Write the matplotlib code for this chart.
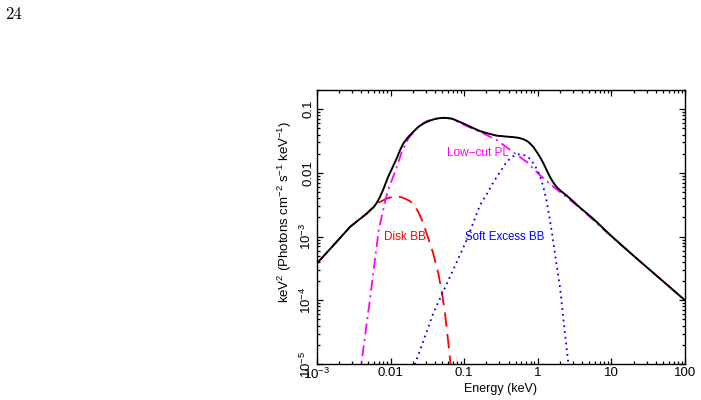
import matplotlib
matplotlib.use("Agg")
import matplotlib.pyplot as plt
from matplotlib.ticker import FixedLocator, FixedFormatter, LogLocator, NullFormatter

plt.rcParams['font.family'] = ['Liberation Sans', 'DejaVu Sans']
plt.rcParams['mathtext.fontset'] = 'custom'
plt.rcParams['mathtext.rm'] = 'Liberation Sans'
plt.rcParams['mathtext.it'] = 'Liberation Sans:italic'
plt.rcParams['mathtext.bf'] = 'Liberation Sans:bold'

# ---- data (Energy in keV, keV^2 flux) ----
total_E = [0.001, 0.00169, 0.00283, 0.00478, 0.0053, 0.00582, 0.0065, 0.00724, 0.0080, 0.0093,
           0.00982, 0.0109, 0.0121, 0.0135, 0.0149, 0.0175, 0.0203, 0.0240, 0.0278, 0.0330,
           0.0380, 0.0450, 0.0520, 0.0600, 0.0683, 0.0973, 0.130, 0.164, 0.220, 0.277, 0.370,
           0.465, 0.550, 0.635, 0.720, 0.783, 0.870, 0.966, 1.07, 1.19, 1.32, 1.47, 1.63, 1.81,
           2.10, 2.47, 3.00, 3.74, 5.68, 10.0, 20.0, 50.0, 100.0]
total_F = [3.8e-4, 7.4e-4, 1.43e-3, 2.32e-3, 2.61e-3, 2.85e-3, 3.4e-3, 4.3e-3, 5.6e-3, 8.8e-3,
           1.0e-2, 1.3e-2, 1.69e-2, 2.3e-2, 2.90e-2, 3.7e-2, 4.41e-2, 5.3e-2, 5.97e-2, 6.5e-2,
           6.89e-2, 7.2e-2, 7.31e-2, 7.25e-2, 7.1e-2, 5.97e-2, 5.1e-2, 4.52e-2, 4.1e-2, 3.84e-2,
           3.72e-2, 3.64e-2, 3.55e-2, 3.38e-2, 3.15e-2, 2.90e-2, 2.55e-2, 2.14e-2, 1.78e-2,
           1.42e-2, 1.1e-2, 8.57e-3, 7.0e-3, 5.97e-3, 5.1e-3, 4.4e-3, 3.6e-3, 2.85e-3, 1.9e-3,
           1.02e-3, 5.0e-4, 2.0e-4, 1.0e-4]

disk_E = [0.001, 0.00169, 0.00283, 0.00478, 0.00653, 0.00893, 0.0105, 0.0122, 0.0140, 0.0157,
          0.018, 0.0205, 0.0235, 0.0267, 0.0325, 0.0380, 0.0445, 0.0499, 0.0548, 0.0603,
          0.0652, 0.068]
disk_F = [3.8e-4, 7.4e-4, 1.43e-3, 2.31e-3, 3.32e-3, 3.97e-3, 4.18e-3, 4.24e-3, 4.15e-3, 3.94e-3,
          3.65e-3, 3.2e-3, 2.5e-3, 1.82e-3, 9.4e-4, 5.4e-4, 2.65e-4, 1.30e-4, 6.3e-5, 2.38e-5,
          1.0e-5, 6.0e-6]

pl_E = [0.0039, 0.0040, 0.0053, 0.00689, 0.00847, 0.0093, 0.0115, 0.0142, 0.0174, 0.0227,
        0.0309, 0.0390, 0.0469, 0.0570, 0.0683, 0.0973, 0.164, 0.277, 0.465, 0.706, 1.07, 1.63,
        2.47, 3.74, 5.68, 10.0, 20.0, 50.0, 100.0]
pl_F = [6.0e-6, 1.0e-5, 1.14e-4, 1.26e-3, 3.7e-3, 5.5e-3, 1.04e-2, 2.14e-2, 3.47e-2, 4.98e-2,
        6.49e-2, 7.05e-2, 7.31e-2, 7.3e-2, 7.05e-2, 5.75e-2, 4.41e-2, 3.27e-2, 2.11e-2, 1.49e-2,
        9.2e-3, 6.04e-3, 4.15e-3, 2.8e-3, 1.82e-3, 1.0e-3, 5.0e-4, 2.0e-4, 1.0e-4]

soft_E = [0.0205, 0.0215, 0.0380, 0.0641, 0.108, 0.164, 0.202, 0.248, 0.310, 0.378, 0.430,
          0.490, 0.573, 0.692, 0.780, 0.869, 0.970, 1.07, 1.19, 1.32, 1.45, 1.55, 1.63, 1.80,
          2.0, 2.27, 2.59, 2.7]
soft_F = [8.0e-6, 1.0e-5, 6.24e-5, 2.34e-4, 8.81e-4, 3.12e-3, 4.6e-3, 7.1e-3, 1.05e-2, 1.49e-2,
          1.72e-2, 1.90e-2, 1.97e-2, 1.87e-2, 1.66e-2, 1.41e-2, 1.15e-2, 9.0e-3, 6.0e-3, 3.6e-3,
          1.9e-3, 1.19e-3, 8.0e-4, 3.6e-4, 1.63e-4, 4.09e-5, 1.07e-5, 7.0e-6]

xticks = [1e-3, 1e-2, 1e-1, 1, 10, 100]
xticklabels = [r'$\mathregular{10^{-3}}$', '0.01', '0.1', '1', '10', '100']
yticks = [1e-5, 1e-4, 1e-3, 1e-2, 1e-1]
yticklabels = [r'$\mathregular{10^{-5}}$', r'$\mathregular{10^{-4}}$', r'$\mathregular{10^{-3}}$', '0.01', '0.1']

fig = plt.figure(figsize=(7.01, 4.0), dpi=100)
ax = fig.add_axes([317/701, 1-364/400, 368/701, 274/400])

ax.plot(disk_E, disk_F, color='#ff0000', lw=1.3, ls=(0, (8, 4)))
ax.plot(pl_E, pl_F, color='#ff00ff', lw=1.3, ls=(0, (6, 2.5, 1.2, 2.5)))
ax.plot(soft_E, soft_F, color='#0000ff', lw=1.3, ls=(0, (1, 2.2)))
ax.plot(total_E, total_F, color='black', lw=1.4)

ax.set_xscale('log')
ax.set_yscale('log')
ax.set_xlim(1e-3, 100)
ax.set_ylim(1e-5, 0.2)

ax.xaxis.set_major_locator(FixedLocator(xticks))
ax.xaxis.set_major_formatter(FixedFormatter(xticklabels))
ax.yaxis.set_major_locator(FixedLocator(yticks))
ax.yaxis.set_major_formatter(FixedFormatter(yticklabels))
ax.xaxis.set_minor_locator(LogLocator(base=10, subs=range(2, 10), numticks=20))
ax.yaxis.set_minor_locator(LogLocator(base=10, subs=range(2, 10), numticks=20))
ax.xaxis.set_minor_formatter(NullFormatter())
ax.yaxis.set_minor_formatter(NullFormatter())

ax.tick_params(which='both', direction='in', top=True, right=True, width=0.9, colors='black')
ax.tick_params(which='major', length=4.5, labelsize=9.5, pad=2)
ax.tick_params(which='minor', length=2.2)
for lab in ax.get_yticklabels():
    lab.set_rotation(90)
    lab.set_va('center')
for s in ax.spines.values():
    s.set_linewidth(1.0)

ax.set_xlabel('Energy (keV)', fontsize=9, labelpad=1)
ax.set_ylabel(r'keV$^{\mathregular{2}}$ (Photons cm$^{\mathregular{-2}}$ s$^{\mathregular{-1}}$ keV$^{\mathregular{-1}}$)',
              fontsize=9.5)
ax.yaxis.set_label_coords(-0.062, 0.556)

ax.text(0.353, 0.770, 'Low\u2212cut PL', color='#ff00ff', fontsize=8.5, ha='left', va='center',
        transform=ax.transAxes)
ax.text(0.182, 0.4635, 'Disk BB', color='#ff0000', fontsize=8.5, ha='left', va='center',
        transform=ax.transAxes)
ax.text(0.402, 0.4635, 'Soft Excess BB', color='#0000ff', fontsize=8.3, ha='left', va='center',
        transform=ax.transAxes)

fig.text(5/701, 1-14/400, '24', family=['cmr10', 'DejaVu Serif'], fontsize=12, ha='left', va='center')

fig.savefig('out.png', dpi=100)
